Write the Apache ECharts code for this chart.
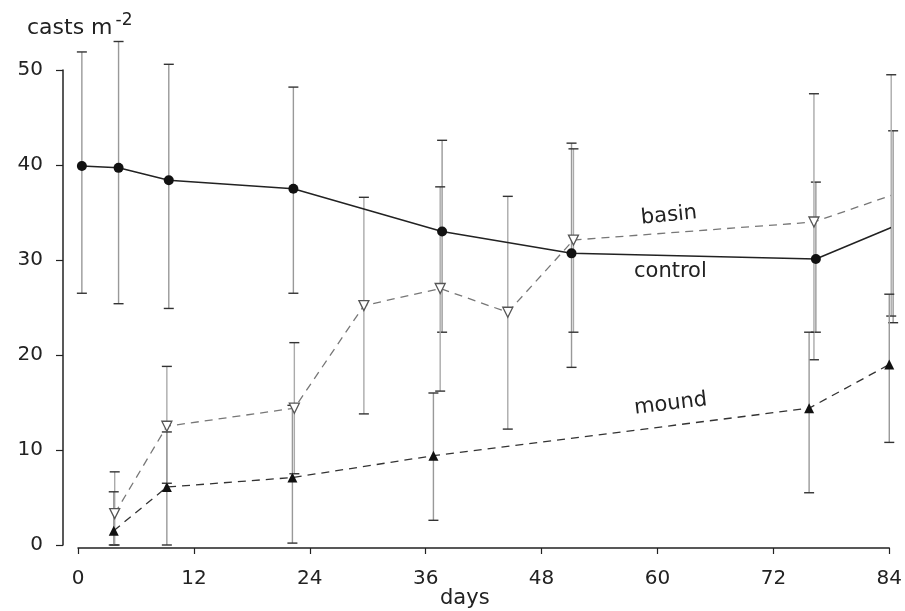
<!DOCTYPE html>
<html>
<head>
<meta charset="utf-8">
<script src="https://cdn.jsdelivr.net/npm/echarts@6/dist/echarts.min.js"></script>
<style>
  html, body { margin: 0; padding: 0; background: #fff; }
  #chart { width: 905px; height: 611px; }
</style>
</head>
<body>
<div id="chart"></div>
<script>
// x ticks (days) and y ticks (casts m-2)
const dayTicks = [0, 12, 24, 36, 48, 60, 72, 84]
const castTicks = [0, 10, 20, 30, 40, 50]

// control: solid line, filled circles
const controlDays = [0.4, 4.2, 9.4, 22.3, 37.7, 51.1, 76.4, 84.4]
const controlMean = [39.9, 39.7, 38.4, 37.5, 33.0, 30.7, 30.1, 33.5]
const controlUpper = [51.9, 53.0, 50.6, 48.2, 42.6, 42.3, 38.2, 43.6]
const controlLower = [26.5, 25.4, 24.9, 26.5, 22.4, 18.7, 22.4, 23.4]

// basin: dashed line, open inverted triangles
const basinDays = [3.8, 9.2, 22.4, 29.6, 37.5, 44.5, 51.3, 76.2, 84.2]
const basinMean = [3.3, 12.5, 14.4, 25.2, 27.0, 24.5, 32.1, 34.0, 36.8]
const basinUpper = [7.7, 18.8, 21.3, 36.6, 37.7, 36.7, 41.7, 47.5, 49.5]
const basinLower = [0, 6.5, 7.5, 13.8, 16.2, 12.2, 22.4, 19.5, 24.1]

// mound: dashed line, filled triangles
const moundDays = [3.7, 9.2, 22.2, 36.8, 75.7, 84.0]
const moundMean = [1.5, 6.1, 7.1, 9.4, 14.4, 19.0]
const moundUpper = [5.6, 11.9, 14.7, 16.0, 22.4, 26.4]
const moundLower = [0, 0, 0.2, 2.6, 5.5, 10.8]

const pts = (xs, ys) => xs.map((x, i) => [x, ys[i]])
const bars = (xs, lo, hi) => xs.map((x, i) => [x, lo[i], hi[i]])

const FONT = 'DejaVu Sans'

// error bar drawing
function errorBar(color) {
  return function (params, api) {
    const x = api.value(0)
    const lo = api.coord([x, api.value(1)])
    const hi = api.coord([x, api.value(2)])
    const w = 5
    const style = { stroke: color, lineWidth: 1.4 }
    const cap = { stroke: '#333', lineWidth: 1.4 }
    return {
      type: 'group',
      children: [
        { type: 'line', shape: { x1: hi[0], y1: hi[1], x2: lo[0], y2: lo[1] }, style: style },
        { type: 'line', shape: { x1: hi[0] - w, y1: hi[1], x2: hi[0] + w, y2: hi[1] }, style: cap },
        { type: 'line', shape: { x1: lo[0] - w, y1: lo[1], x2: lo[0] + w, y2: lo[1] }, style: cap },
      ],
    }
  }
}

const chart = echarts.init(document.getElementById('chart'), null, { renderer: 'canvas' })

const option = {
  animation: false,
  backgroundColor: '#fff',
  grid: { left: 78, right: 13, top: 70, bottom: 66 },
  xAxis: {
    type: 'value',
    min: dayTicks[0],
    max: dayTicks[dayTicks.length - 1],
    interval: 12,
    offset: 3,
    axisLine: { show: true, onZero: false, lineStyle: { color: '#222', width: 1.5 } },
    axisTick: { show: true, length: 6, lineStyle: { color: '#222', width: 1.2 } },
    axisLabel: { color: '#222', fontSize: 20, fontFamily: FONT, margin: 21 },
    splitLine: { show: false },
  },
  yAxis: {
    type: 'value',
    min: castTicks[0],
    max: castTicks[castTicks.length - 1],
    interval: 10,
    offset: 15,
    axisLine: { show: true, onZero: false, lineStyle: { color: '#222', width: 1.5 } },
    axisTick: { show: true, length: 7, lineStyle: { color: '#222', width: 1.2 } },
    axisLabel: { color: '#222', fontSize: 20, fontFamily: FONT, margin: 20 },
    splitLine: { show: false },
  },
  graphic: [
    {
      type: 'text', left: 27, top: 12,
      style: {
        text: 'casts m{sup|-2}',
        fontSize: 22, fontFamily: FONT, fill: '#222',
        rich: { sup: { fontSize: 17, fontFamily: FONT, verticalAlign: 'top', padding: [0, 0, 16, 3] } },
      },
    },
    { type: 'text', left: 440, top: 588, style: { text: 'days', fontSize: 21, fontFamily: FONT, fill: '#222' } },
    { type: 'text', x: 640, y: 208, rotation: 0.1, style: { text: 'basin', fontSize: 21, fontFamily: FONT, fill: '#222' } },
    { type: 'text', x: 634, y: 261, style: { text: 'control', fontSize: 21, fontFamily: FONT, fill: '#222' } },
    { type: 'text', x: 633, y: 398, rotation: 0.12, style: { text: 'mound', fontSize: 21, fontFamily: FONT, fill: '#222' } },
  ],
  series: [
    {
      name: 'control err', type: 'custom', z: 1,
      data: bars(controlDays, controlLower, controlUpper),
      renderItem: errorBar('#999'),
    },
    {
      name: 'basin err', type: 'custom', z: 1,
      data: bars(basinDays, basinLower, basinUpper),
      renderItem: errorBar('#aaa'),
    },
    {
      name: 'mound err', type: 'custom', z: 1,
      data: bars(moundDays, moundLower, moundUpper),
      renderItem: errorBar('#999'),
    },
    {
      name: 'basin', type: 'line', z: 3,
      data: pts(basinDays, basinMean),
      symbol: 'triangle', symbolRotate: 180, symbolSize: 10,
      itemStyle: { color: '#fff', borderColor: '#555', borderWidth: 1.3 },
      lineStyle: { color: '#777', width: 1.3, type: [8, 6] },
    },
    {
      name: 'mound', type: 'line', z: 3,
      data: pts(moundDays, moundMean),
      symbol: 'triangle', symbolSize: 10,
      itemStyle: { color: '#111' },
      lineStyle: { color: '#333', width: 1.3, type: [8, 6] },
    },
    {
      name: 'control', type: 'line', z: 4,
      data: pts(controlDays, controlMean),
      symbol: 'circle', symbolSize: 10,
      itemStyle: { color: '#111' },
      lineStyle: { color: '#222', width: 1.5 },
    },
  ],
}

chart.setOption(option)
</script>
</body>
</html>
